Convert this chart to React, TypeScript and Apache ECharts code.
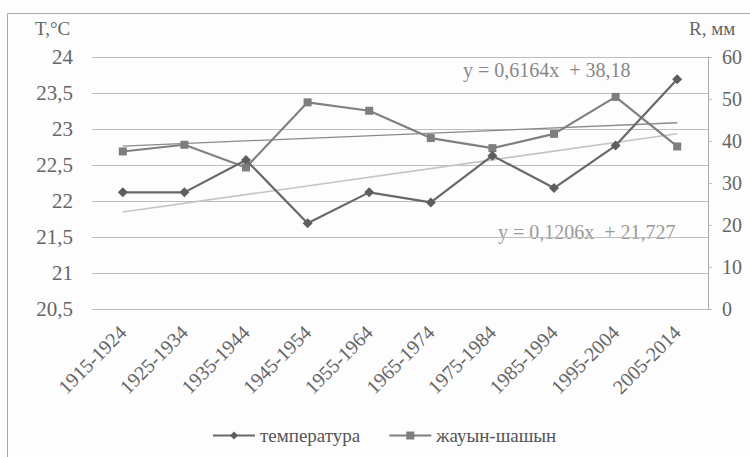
import React, { useEffect, useRef } from "react";
import * as echarts from "echarts";

const categories = [
  "1915-1924", "1925-1934", "1935-1944", "1945-1954", "1955-1964",
  "1965-1974", "1975-1984", "1985-1994", "1995-2004", "2005-2014",
];
const temperature = [22.12, 22.12, 22.57, 21.69, 22.12, 21.98, 22.63, 22.18, 22.77, 23.69];
const precipitation = [37.5, 39.1, 33.7, 49.2, 47.2, 40.7, 38.3, 41.7, 50.5, 38.7];
const tempTrend = { slope: 0.1206, intercept: 21.727, label: "y = 0,1206x  + 21,727" };
const precTrend = { slope: 0.6164, intercept: 38.18, label: "y = 0,6164x  + 38,18" };
const seriesNames = ["температура", "жауын-шашын"];

const FONT = "Liberation Serif, Times New Roman, DejaVu Serif, serif";
const TXT = "#666";

function trendData(t: { slope: number; intercept: number }) {
  const n = categories.length;
  return categories.map((_, i) =>
    i === 0 || i === n - 1 ? +(t.slope * (i + 1) + t.intercept).toFixed(3) : null
  );
}

export default function App() {
  const ref = useRef<HTMLDivElement>(null);
  useEffect(() => {
    document.body.style.margin = "0";
    const chart = echarts.init(ref.current!, null, { renderer: "svg" });
    chart.setOption({
      animation: false,
      backgroundColor: "#fdfdfd",
      textStyle: { fontFamily: FONT, color: TXT },
      grid: { left: 92, right: 42, top: 57, bottom: 148 },
      xAxis: {
        type: "category",
        data: categories,
        boundaryGap: true,
        axisLine: { show: false },
        axisTick: { show: false },
        axisLabel: { rotate: 45, fontSize: 20, color: TXT, fontFamily: FONT, margin: 20 },
      },
      yAxis: [
        {
          type: "value",
          min: 20.5,
          max: 24,
          interval: 0.5,
          axisLine: { show: false },
          axisTick: { show: false },
          splitLine: { show: true, lineStyle: { color: "#bdbdbd", width: 1 } },
          axisLabel: {
            fontSize: 21,
            color: TXT,
            fontFamily: FONT,
            margin: 19,
            formatter: (v: number) => String(v).replace(".", ","),
          },
        },
        {
          type: "value",
          min: 0,
          max: 60,
          interval: 10,
          position: "right",
          axisLine: { show: true, lineStyle: { color: "#aaa", width: 1 } },
          axisTick: { show: true, length: 4, lineStyle: { color: "#bbb" } },
          splitLine: { show: false },
          axisLabel: { fontSize: 20, color: TXT, fontFamily: FONT, margin: 14 },
        },
      ],
      legend: {
        data: seriesNames,
        left: 207,
        top: 421,
        itemWidth: 42,
        itemHeight: 10,
        itemGap: 28,
        textStyle: { fontSize: 19, color: "#555", fontFamily: FONT },
      },
      graphic: [
        {
          type: "rect",
          shape: { x: 7.5, y: 13.5, width: 760, height: 460 },
          style: { fill: "none", stroke: "#aaa", lineWidth: 1 },
          silent: true,
        },
        {
          type: "text",
          left: 35,
          top: 19,
          style: { text: "T,°C", fontSize: 19, fill: TXT, fontFamily: FONT },
        },
        {
          type: "text",
          left: 689,
          top: 19,
          style: { text: "R, мм", fontSize: 19, fill: TXT, fontFamily: FONT },
        },
        {
          type: "text",
          left: 463,
          top: 60,
          style: { text: precTrend.label, fontSize: 20, fill: "#888", fontFamily: FONT },
        },
        {
          type: "text",
          left: 498,
          top: 222,
          style: { text: tempTrend.label, fontSize: 20, fill: "#999", fontFamily: FONT },
        },
      ],
      series: [
        {
          name: "trendT",
          type: "line",
          yAxisIndex: 0,
          data: trendData(tempTrend),
          connectNulls: true,
          showSymbol: false,
          symbol: "none",
          lineStyle: { color: "#c4c4c4", width: 1.6 },
          z: 1,
        },
        {
          name: "trendR",
          type: "line",
          yAxisIndex: 1,
          data: trendData(precTrend),
          connectNulls: true,
          showSymbol: false,
          symbol: "none",
          lineStyle: { color: "#8a8a8a", width: 1.3 },
          z: 1,
        },
        {
          name: seriesNames[1],
          type: "line",
          yAxisIndex: 1,
          data: precipitation,
          symbol: "rect",
          symbolSize: 8,
          itemStyle: { color: "#7e7e7e" },
          lineStyle: { color: "#808080", width: 2.2 },
          z: 3,
        },
        {
          name: seriesNames[0],
          type: "line",
          yAxisIndex: 0,
          data: temperature,
          symbol: "diamond",
          symbolSize: 10,
          itemStyle: { color: "#5e5e5e" },
          lineStyle: { color: "#686868", width: 2.2 },
          z: 4,
        },
      ],
    });
    return () => chart.dispose();
  }, []);
  return <div ref={ref} style={{ width: 750, height: 457, position: "absolute", left: 0, top: 0 }} />;
}
